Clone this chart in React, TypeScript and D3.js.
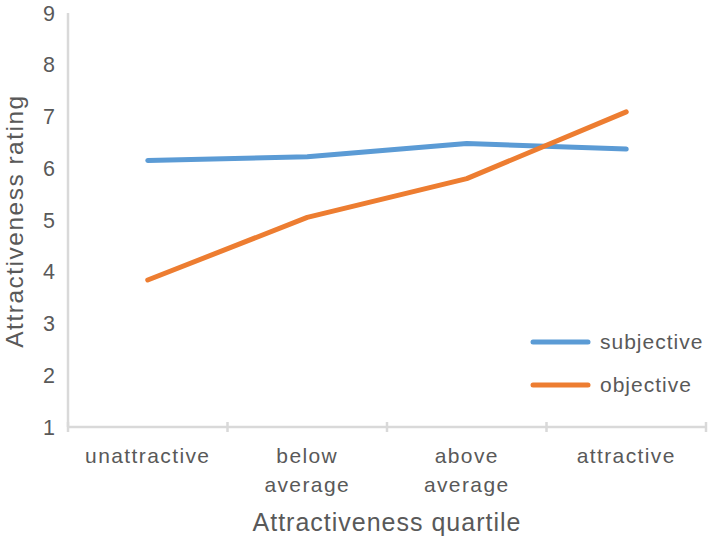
import React from "react";
import * as d3 from "d3";

const categories = ["unattractive", "below average", "above average", "attractive"];
const categoryLines = [["unattractive"], ["below", "average"], ["above", "average"], ["attractive"]];
const subjective = [6.15, 6.22, 6.48, 6.37];
const objective = [3.84, 5.05, 5.8, 7.09];
const yTicks = [1, 2, 3, 4, 5, 6, 7, 8, 9];
const seriesNames = ["subjective", "objective"];
const seriesColors = ["#5b9bd5", "#ed7d31"];

const W = 709;
const H = 539;
const M = { left: 68, right: 3, top: 13, bottom: 112 };

export default function App() {
  const x = d3
    .scaleBand<string>()
    .domain(categories)
    .range([M.left, W - M.right])
    .paddingInner(0)
    .paddingOuter(0);
  const y = d3.scaleLinear().domain([1, 9]).range([H - M.bottom, M.top]);
  const line = d3
    .line<number>()
    .x((_, i) => (x(categories[i]) as number) + x.bandwidth() / 2)
    .y((d) => y(d));
  const series = [subjective, objective];
  const font = "'Liberation Sans', Arial, sans-serif";
  const textColor = "#595959";
  const axisColor = "#d9d9d9";
  const y0 = y(1);
  const tickXs = categories.map((c) => x(c) as number).concat([W - M.right]);

  return (
    <svg
      width={W}
      height={H}
      style={{ position: "absolute", left: 0, top: 0, background: "#fff" }}
      fontFamily={font}
    >
      <line x1={M.left} x2={M.left} y1={y(9)} y2={y0} stroke={axisColor} strokeWidth={2.5} />
      <line x1={M.left} x2={W - M.right} y1={y0} y2={y0} stroke={axisColor} strokeWidth={2.5} />
      {tickXs.map((tx, i) => (
        <line key={i} x1={tx} x2={tx} y1={y0 - 5} y2={y0 + 5} stroke={axisColor} strokeWidth={2.5} />
      ))}
      {yTicks.map((t) => (
        <text
          key={t}
          x={55}
          y={y(t)}
          dy="0.36em"
          textAnchor="end"
          fontSize={21.5}
          fill={textColor}
        >
          {t}
        </text>
      ))}
      {categoryLines.map((lines, i) => (
        <text
          key={i}
          x={(x(categories[i]) as number) + x.bandwidth() / 2}
          y={463}
          textAnchor="middle"
          fontSize={21}
          letterSpacing={1.4}
          fill={textColor}
        >
          {lines.map((l, j) => (
            <tspan key={j} x={(x(categories[i]) as number) + x.bandwidth() / 2} dy={j === 0 ? 0 : 29}>
              {l}
            </tspan>
          ))}
        </text>
      ))}
      <text x={387} y={531} textAnchor="middle" fontSize={25} letterSpacing={1} fill={textColor}>
        Attractiveness quartile
      </text>
      <text
        transform={`translate(23, ${221}) rotate(-90)`}
        textAnchor="middle"
        fontSize={24.5}
        letterSpacing={1.5}
        fill={textColor}
      >
        Attractiveness rating
      </text>
      {series.map((s, i) => (
        <path
          key={i}
          d={line(s) || ""}
          fill="none"
          stroke={seriesColors[i]}
          strokeWidth={5}
          strokeLinecap="round"
          strokeLinejoin="round"
        />
      ))}
      {seriesNames.map((n, i) => (
        <g key={n}>
          <line
            x1={533}
            x2={588}
            y1={342 + i * 43}
            y2={342 + i * 43}
            stroke={seriesColors[i]}
            strokeWidth={5}
            strokeLinecap="round"
          />
          <text x={600} y={342 + i * 43} dy="0.35em" fontSize={21} letterSpacing={1} fill={textColor}>
            {n}
          </text>
        </g>
      ))}
    </svg>
  );
}
